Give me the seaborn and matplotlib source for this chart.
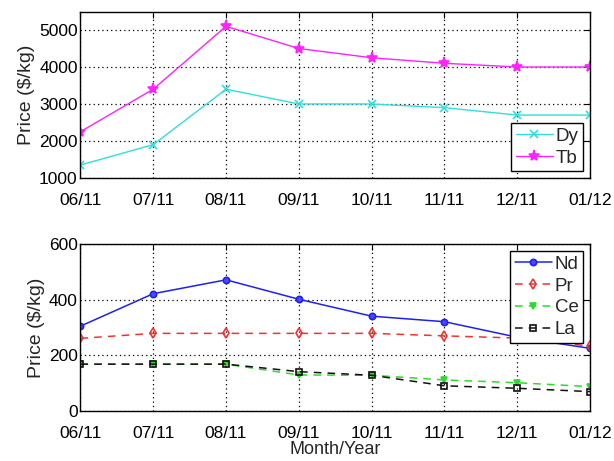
import numpy as np
import pandas as pd
import matplotlib
matplotlib.use("Agg")
import matplotlib.pyplot as plt
import seaborn as sns

months = ["06/11", "07/11", "08/11", "09/11", "10/11", "11/11", "12/11", "01/12"]

dy = [1350, 1900, 3400, 3000, 3000, 2900, 2700, 2700]
tb = [2250, 3400, 5100, 4500, 4250, 4100, 4000, 4000]

nd = [305, 422, 472, 402, 341, 321, 265, 225]
pr = [261, 279, 279, 279, 279, 270, 262, 233]
ce = [168, 168, 168, 129, 128, 111, 101, 87]
la = [168, 168, 168, 141, 128, 90, 81, 69]

top_ticks = [1000, 2000, 3000, 4000, 5000]
bot_ticks = [0, 200, 400, 600]

sns.set_style("white")
plt.rcParams["font.family"] = ["Liberation Sans", "DejaVu Sans"]

fig = plt.figure(figsize=(6.14, 4.61), dpi=100)
ax1 = fig.add_axes([0.131, 0.614, 0.830, 0.361])
ax2 = fig.add_axes([0.131, 0.109, 0.830, 0.361])

pos = list(range(len(months)))

top_series = [
    ("Dy", dy, "#30dede", "x", "-", 5.5, None),
    ("Tb", tb, "#ff22ff", "*", "-", 8, None),
]
for name, vals, col, mk, ls, ms, mfc in top_series:
    sns.lineplot(x=pos, y=vals, ax=ax1, color=col, marker=mk, linestyle=ls,
                 markersize=ms, linewidth=1.0, label=name,
                 markeredgecolor=col, markeredgewidth=1.2)

bot_series = [
    ("Nd", nd, "#2020ee", "o", "-", 4.5, "#4a4aff"),
    ("Pr", pr, "#ee3333", "d", (0, (5, 4)), 5, "none"),
    ("Ce", ce, "#2bdc2b", "v", (0, (5, 4)), 5, "#2bdc2b"),
    ("La", la, "#111111", "s", (0, (5, 4)), 4, "none"),
]
for name, vals, col, mk, ls, ms, mfc in bot_series:
    sns.lineplot(x=pos, y=vals, ax=ax2, color=col, marker=mk, linestyle=ls,
                 markersize=ms, linewidth=1.1, label=name,
                 markeredgecolor=col, markerfacecolor=mfc, markeredgewidth=1.2)

for ax in (ax1, ax2):
    ax.set_xlim(0, len(months) - 1)
    ax.set_xticks(pos)
    ax.set_xticklabels(months)
    ax.grid(True, color="black", linestyle=(0, (1, 2.5)), linewidth=0.9)
    ax.tick_params(direction="in", top=True, right=True, length=4,
                   labelsize=12.5, colors="black")
    ax.tick_params(axis="x", pad=11)
    ax.tick_params(axis="y", pad=2)
    for sp in ax.spines.values():
        sp.set_color("black")
        sp.set_linewidth(1.0)
    ax.set_ylabel("Price ($/kg)", fontsize=14, labelpad=3)

ax1.set_ylim(1000, 5500)
ax1.set_yticks(top_ticks)
ax2.set_ylim(0, 600)
ax2.set_yticks(bot_ticks)
ax2.set_xlabel("Month/Year", fontsize=13, labelpad=0)
ax1.set_xlabel("")

leg_kw = dict(fontsize=13.5, frameon=True, fancybox=False, edgecolor="black",
              borderpad=0.25, labelspacing=0.25, handlelength=2.0,
              handletextpad=0.15, borderaxespad=0.35)
leg1 = ax1.legend(loc="lower right", **leg_kw)
leg2 = ax2.legend(loc="upper right", **leg_kw)
for leg in (leg1, leg2):
    leg.get_frame().set_linewidth(1.0)
    leg.get_frame().set_alpha(1.0)

fig.savefig("out.png", dpi=100)
